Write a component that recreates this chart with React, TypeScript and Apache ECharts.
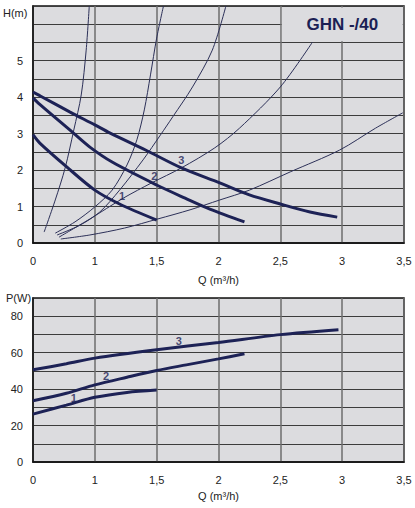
import React, { useEffect, useRef } from 'react';
import * as echarts from 'echarts';

// Tick labels (x axis is piecewise: 0..1 then steps of 0.5, all equally spaced)
const qTickLabels = ['0', '1', '1,5', '2', '2,5', '3', '3,5'];
const hTickValues = [0, 1, 2, 3, 4, 5];
const pTickValues = [0, 20, 40, 60, 80];

// Pump curves H(Q)
const pump1Q = [0, 0.11, 0.55, 1.0, 1.2, 1.5];
const pump1H = [2.97, 2.74, 2.08, 1.45, 1.07, 0.63];
const pump2Q = [0, 0.11, 0.65, 0.92, 1.14, 1.5, 1.73, 1.93, 2.21];
const pump2H = [3.98, 3.8, 3.02, 2.63, 2.22, 1.59, 1.23, 0.93, 0.58];
const pump3Q = [0, 0.11, 0.6, 1.0, 1.12, 1.41, 1.7, 2.01, 2.25, 2.5, 2.74, 2.96];
const pump3H = [4.14, 4.04, 3.59, 3.24, 3.02, 2.55, 2.06, 1.65, 1.32, 1.07, 0.85, 0.71];

// System (thin) curves
const sysAQ = [0.18, 0.36, 0.52, 0.66, 0.78, 0.86, 0.91];
const sysAH = [0.3, 1.18, 2.06, 3.1, 4.06, 5.29, 6.5];
const sysBQ = [0.36, 0.68, 1.0, 1.14, 1.26, 1.34, 1.4, 1.45, 1.5, 1.555];
const sysBH = [0.27, 0.58, 0.99, 1.45, 2.14, 2.83, 3.65, 4.61, 5.62, 6.5];
const sysCQ = [0.39, 0.76, 1.04, 1.2, 1.39, 1.53, 1.63, 1.79, 1.95, 2.06];
const sysCH = [0.22, 0.49, 0.85, 1.45, 2.28, 2.96, 3.46, 4.28, 5.29, 6.5];
const sysDQ = [0.42, 0.92, 1.23, 1.46, 1.7, 1.97, 2.17, 2.5, 2.76];
const sysDH = [0.16, 0.66, 1.23, 1.65, 2.06, 2.61, 3.15, 4.28, 5.51];
const sysEQ = [0.45, 0.92, 1.24, 1.51, 1.77, 2.01, 2.25, 2.58, 2.98, 3.27, 3.49];
const sysEH = [0.11, 0.22, 0.41, 0.66, 0.91, 1.18, 1.45, 1.95, 2.55, 3.15, 3.57];

// Power curves P(Q)
const pow1Q = [0, 0.54, 1.0, 1.26, 1.5];
const pow1P = [26.3, 31.2, 35.5, 38.2, 39.5];
const pow2Q = [0, 0.54, 1.0, 1.26, 1.5, 1.74, 2.0, 2.21];
const pow2P = [33.6, 37.7, 42.3, 46.5, 50.2, 53.3, 56.6, 59.4];
const pow3Q = [0, 0.54, 1.0, 1.5, 2.0, 2.5, 2.97];
const pow3P = [50.6, 53.9, 57.0, 61.6, 65.6, 69.9, 72.6];

// Curve number labels
const curveNames = ['1', '2', '3'];
const topLabelQ = [1.22, 1.48, 1.7];
const topLabelH = [1.29, 1.84, 2.28];
const botLabelQ = [0.66, 1.09, 1.68];
const botLabelP = [35.2, 47.2, 66.5];

const modelTitle = 'GHN -/40';

const NAVY = '#1d2256';
const THIN = '#2c3058';
const FONT = 'Liberation Sans, Arial, sans-serif';
const PLOT_BG = '#dcdcdf';

function toU(q: number): number {
  return q <= 1 ? q : 1 + (q - 1) * 2;
}
function pts(qs: number[], vs: number[]) {
  return qs.map((q, i) => [toU(q), vs[i]]);
}

export default function App() {
  const ref = useRef<HTMLDivElement>(null);
  useEffect(() => {
    const chart = echarts.init(ref.current!, null, { renderer: 'svg' });
    const line = (data: number[][], idx: number, thick: boolean) => ({
      type: 'line',
      data,
      xAxisIndex: idx,
      yAxisIndex: idx,
      symbol: 'none',
      smooth: 0.3,
      silent: true,
      z: thick ? 4 : 3,
      lineStyle: { color: thick ? NAVY : THIN, width: thick ? 3 : 1 },
    });
    const labelSeries = (qs: number[], vs: number[], idx: number, extra: any = {}) => ({
      type: 'scatter',
      xAxisIndex: idx,
      yAxisIndex: idx,
      symbolSize: 1,
      silent: true,
      z: 5,
      itemStyle: { color: 'rgba(0,0,0,0)' },
      label: {
        show: true,
        position: 'inside',
        formatter: '{b}',
        fontFamily: FONT,
        fontWeight: 'bold',
        fontSize: 11,
        color: NAVY,
      },
      data: qs.map((q, i) => ({ name: curveNames[i], value: [toU(q), vs[i]] })),
      ...extra,
    });
    const xAxis = (idx: number, gap: number) => ({
      type: 'value',
      gridIndex: idx,
      min: 0,
      max: 6,
      interval: 1,
      axisLine: { show: true, lineStyle: { color: '#111', width: 1.5 } },
      axisTick: { show: false },
      axisLabel: {
        formatter: (v: number) => qTickLabels[Math.round(v)] ?? '',
        margin: 12,
        fontSize: 11,
        fontFamily: FONT,
        color: '#222',
      },
      splitLine: { show: true, lineStyle: { color: '#6e6e6e', width: 1.5 } },
      name: 'Q (m³/h)',
      nameLocation: 'middle',
      nameGap: gap,
      nameTextStyle: { fontSize: 11, fontFamily: FONT, color: '#222' },
    });
    const yAxis = (idx: number, max: number, interval: number, shown: number[]) => ({
      type: 'value',
      gridIndex: idx,
      min: 0,
      max,
      interval,
      axisLine: { show: true, lineStyle: { color: '#111', width: 1.5 } },
      axisTick: { show: false },
      axisLabel: {
        formatter: (v: number) => (shown.indexOf(v) >= 0 ? String(v) : ''),
        margin: 10,
        fontSize: 11,
        fontFamily: FONT,
        color: '#222',
      },
      splitLine: { show: true, lineStyle: { color: '#3c3c3c', width: 1 } },
    });

    chart.setOption({
      animation: false,
      backgroundColor: '#ffffff',
      grid: [
        { left: 33, right: 11, top: 6, height: 237, show: true, backgroundColor: PLOT_BG, borderColor: '#111', borderWidth: 1.5 },
        { left: 33, right: 11, top: 298, height: 164, show: true, backgroundColor: PLOT_BG, borderColor: '#111', borderWidth: 1.5 },
      ],
      xAxis: [xAxis(0, 31), xAxis(1, 28)],
      yAxis: [yAxis(0, 6.5, 0.5, hTickValues), yAxis(1, 90, 10, pTickValues)],
      graphic: [
        { type: 'text', x: 3, y: 13, style: { text: 'H(m)', fontSize: 11, fontFamily: FONT, fill: '#222', verticalAlign: 'middle' } },
        { type: 'text', x: 6, y: 298, style: { text: 'P(W)', fontSize: 11, fontFamily: FONT, fill: '#222', verticalAlign: 'middle' } },
      ],
      series: [
        line(pts(sysAQ, sysAH), 0, false),
        line(pts(sysBQ, sysBH), 0, false),
        line(pts(sysCQ, sysCH), 0, false),
        line(pts(sysDQ, sysDH), 0, false),
        line(pts(sysEQ, sysEH), 0, false),
        line(pts(pump1Q, pump1H), 0, true),
        line(pts(pump2Q, pump2H), 0, true),
        line(pts(pump3Q, pump3H), 0, true),
        labelSeries(topLabelQ, topLabelH, 0, {
          markArea: {
            silent: true,
            itemStyle: { color: PLOT_BG, borderWidth: 0 },
            label: {
              show: true,
              position: 'inside',
              formatter: modelTitle,
              fontFamily: FONT,
              fontWeight: 'bold',
              fontSize: 17,
              color: '#1b1f55',
            },
            data: [[{ coord: [4.025, 5.53] }, { coord: [5.98, 6.46] }]],
          },
        }),
        line(pts(pow1Q, pow1P), 1, true),
        line(pts(pow2Q, pow2P), 1, true),
        line(pts(pow3Q, pow3P), 1, true),
        labelSeries(botLabelQ, botLabelP, 1),
      ],
    });
    return () => chart.dispose();
  }, []);
  return (
    <div
      ref={ref}
      style={{ position: 'fixed', left: 0, top: 0, width: 415, height: 508, background: '#fff' }}
    />
  );
}
